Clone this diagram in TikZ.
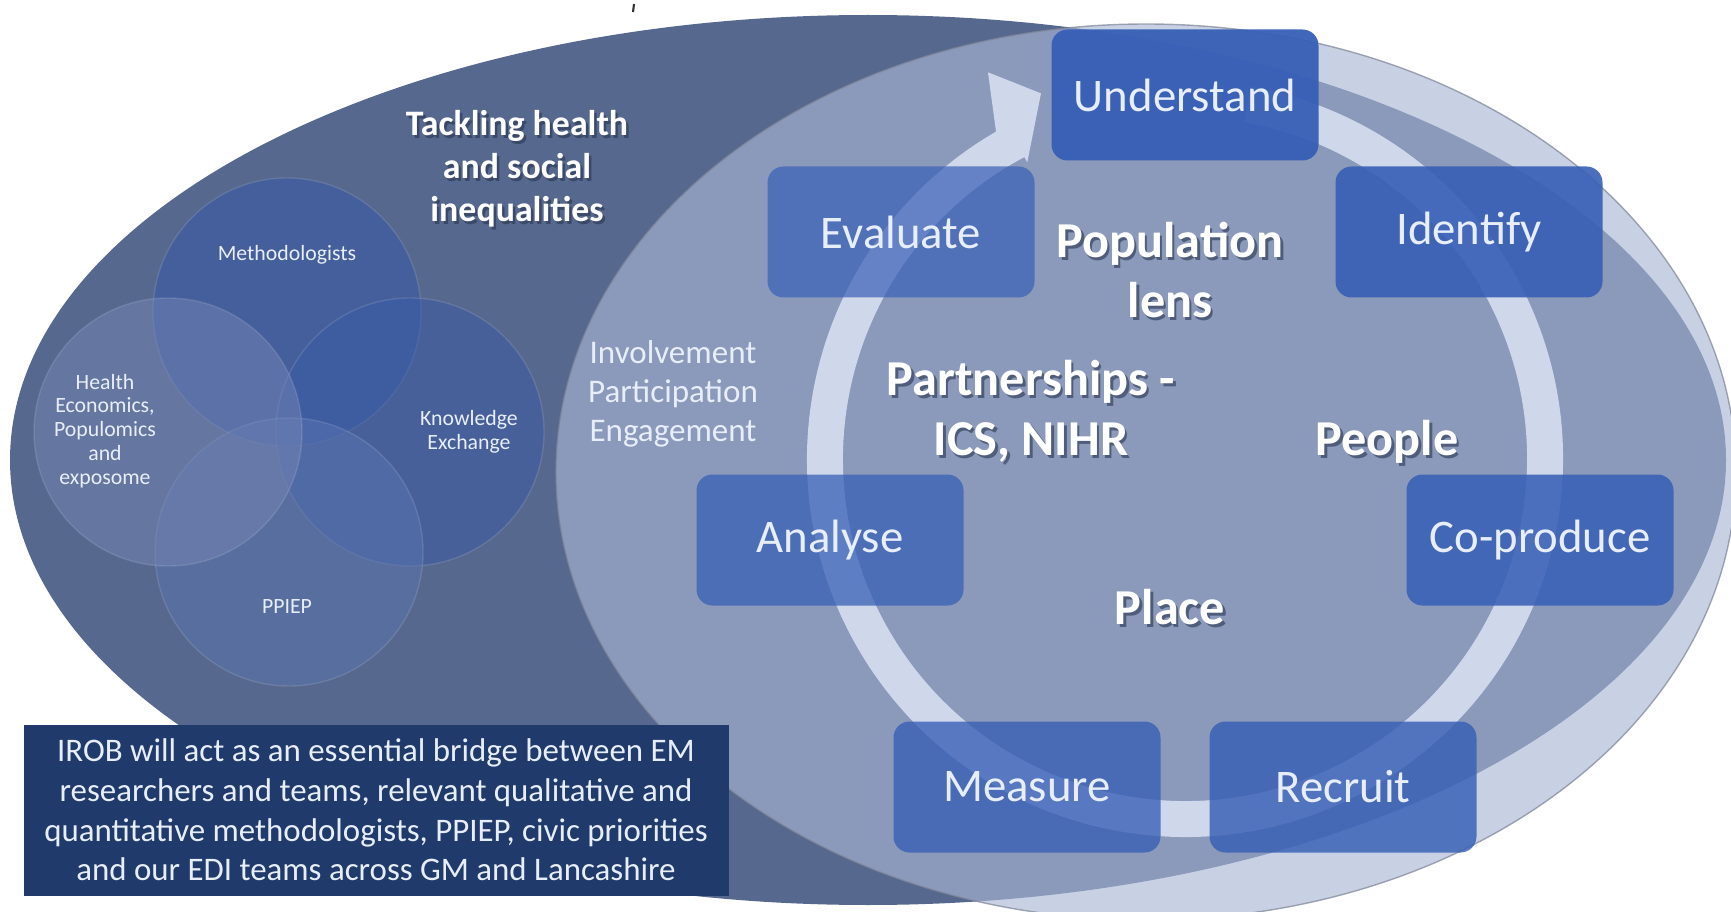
\documentclass[tikz,border=0pt]{standalone}
\usepackage{fontspec}
\setmainfont{Carlito}
\usetikzlibrary{calc,backgrounds}
\definecolor{ovaldark}{HTML}{56688E}
\definecolor{ovallight}{HTML}{A9B5D4}
\definecolor{ovalline}{HTML}{7D8497}
\definecolor{ringlight}{HTML}{CFD7EB}
\definecolor{boxblue}{HTML}{375FB6}
\definecolor{boxtext}{HTML}{E8EEF9}
\definecolor{navybox}{HTML}{1F3A6B}
\definecolor{lblshadow}{HTML}{2A3550}
\definecolor{vennmeth}{HTML}{3358A8}
\definecolor{vennknow}{HTML}{3A5AA6}
\definecolor{vennppi}{HTML}{5A74B0}
\definecolor{vennhealth}{HTML}{7484B4}
\newcommand{\outr}{37.8mm}
\newcommand{\innr}{34.2mm}
\newcommand{\shadowed}[4]{%
\node[#2, text=lblshadow, text opacity=0.6] (#1s) at ($#3+(2.5,3)$) {#4};
\node[#2] (#1) at #3 {#4};}

\begin{document}
\begin{tikzpicture}[x=0.1mm, y=-0.1mm,
  cyclebox/.style={fill=boxblue, fill opacity=#1, text opacity=1, text=boxtext,
    rounded corners=1.6mm, minimum width=26.7mm, minimum height=13.1mm, inner sep=0pt,
    font=\fontsize{13.3}{16}\selectfont},
  venn/.style={circle, fill=#1, fill opacity=0.5, draw=white, draw opacity=0.12,
    minimum size=26.8mm, inner sep=0pt},
  vennlbl/.style={text=boxtext, align=center, font=\fontsize{6.2}{6.8}\selectfont},
  biglbl/.style={text=white, align=center, font=\bfseries\fontsize{14.3}{17.2}\selectfont},
  toplbl/.style={text=white, align=center, font=\bfseries\fontsize{10.2}{12.2}\selectfont}]
\useasboundingbox (0,0) rectangle (1731,912);
%ovals
\begin{scope}[on background layer]
\fill[ovaldark] (868,460) ellipse [x radius=85.8mm, y radius=44.5mm];
\fill[ovallight, fill opacity=0.64] (1146,472) ellipse [x radius=59mm, y radius=44.8mm];
\draw[ovalline, line width=0.4pt, draw opacity=0.7] (1146,472) ellipse [x radius=59mm, y radius=44.8mm];
\end{scope}
\draw[line width=0.6pt, black!80] (634,4) -- (633,12);
%venn
\node[venn=vennmeth] (c1) at (287,312) {};
\node[venn=vennknow] (c2) at (410,432) {};
\node[venn=vennppi] (c3) at (289,552) {};
\node[venn=vennhealth] (c4) at (168,432) {};
\node[vennlbl] (m) at (287,255) {Methodologists};
\node[vennlbl] (k) at (469,432) {Knowledge\\Exchange};
\node[vennlbl] (p) at (287,607) {PPIEP};
\node[vennlbl] (h) at (105,431) {Health\\Economics,\\Populomics\\and\\exposome};
\shadowed{tackle}{toplbl}{(517,169)}{Tackling health\\and social\\inequalities}
\node[text=boxtext, align=center, font=\fontsize{9.4}{11.2}\selectfont] (iep) at (673,394)
  {Involvement\\Participation\\Engagement};
%cycle
\coordinate (ctr) at (1185,459);
\fill[ringlight] ($(ctr)+(80:\outr)$) arc[start angle=80, end angle=-240, radius=\outr]
  -- ($(ctr)+(117:43.4mm)$) -- ($(ctr)+(111.5:39.3mm)$) -- ($(ctr)+(118:33.6mm)$)
  -- ($(ctr)+(118:\innr)$) arc[start angle=-242, end angle=80, radius=\innr] -- cycle;
\node[cyclebox=0.95] (1) at (1185,95) {Understand};
\node[cyclebox=0.9] (2) at (1469,232) {Identify};
\node[cyclebox=0.86] (3) at (1540,540) {Co-produce};
\node[cyclebox=0.82] (4) at (1343,787) {Recruit};
\node[cyclebox=0.78] (5) at (1027,787) {Measure};
\node[cyclebox=0.74] (6) at (830,540) {Analyse};
\node[cyclebox=0.7] (7) at (901,232) {Evaluate};
\shadowed{pop}{biglbl}{(1170,270)}{Population\\lens}
\shadowed{part}{biglbl}{(1031,411)}{Partnerships -\\ICS, NIHR}
\shadowed{ppl}{biglbl}{(1387,442)}{People}
\shadowed{plc}{biglbl}{(1170,607)}{Place}
%note
\node[fill=navybox, text=boxtext, minimum width=70.5mm, minimum height=17.1mm, inner sep=0pt,
  align=center, font=\fontsize{9.36}{11.3}\selectfont] (irob) at (376,810)
  {IROB will act as an essential bridge between EM\\researchers and teams, relevant qualitative and\\quantitative methodologists, PPIEP, civic priorities\\and our EDI teams across GM and Lancashire};
\end{tikzpicture}
\end{document}
